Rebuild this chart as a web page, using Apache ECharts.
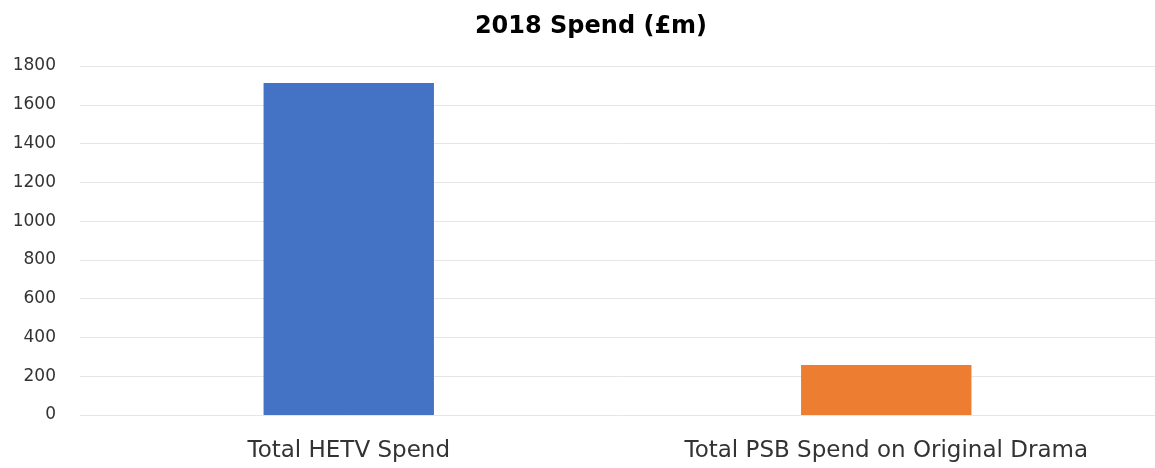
<!DOCTYPE html>
<html>
<head>
<meta charset="utf-8">
<script src="https://cdn.jsdelivr.net/npm/echarts@6/dist/echarts.min.js"></script>
<style>
  html, body { margin: 0; padding: 0; background: #ffffff; }
  #chart { width: 1155px; height: 468px; }
</style>
</head>
<body>
<div id="chart"></div>
<script>
// 2018 spend in £m
const categories = ['Total HETV Spend', 'Total PSB Spend on Original Drama'];
const spendValues = [1712, 258];
const barColors = ['#4472C4', '#ED7D31'];
const titleText = '2018 Spend (£m)';

const chart = echarts.init(document.getElementById('chart'), null, { renderer: 'canvas' });

chart.setOption({
  animation: false,
  backgroundColor: '#ffffff',
  title: {
    text: titleText,
    left: 586,
    top: 10,
    textAlign: 'center',
    textStyle: {
      fontFamily: 'DejaVu Sans',
      fontWeight: 'bold',
      fontSize: 24,
      color: '#000000'
    }
  },
  grid: {
    left: 80,
    top: 66,
    right: 0,
    height: 349,
    containLabel: false
  },
  xAxis: {
    type: 'category',
    data: categories,
    axisLine: { show: false },
    axisTick: { show: false },
    axisLabel: {
      margin: 25,
      fontFamily: 'DejaVu Sans',
      fontSize: 23,
      color: '#333333'
    }
  },
  yAxis: {
    type: 'value',
    min: 0,
    max: 1800,
    interval: 200,
    axisLine: { show: false },
    axisTick: { show: false },
    axisLabel: {
      margin: 24,
      fontFamily: 'DejaVu Sans',
      fontSize: 17,
      color: '#333333',
      formatter: (v) => String(v)
    },
    splitLine: { lineStyle: { color: '#e6e6e6', width: 1 } }
  },
  series: [{
    type: 'bar',
    data: spendValues.map((v, i) => ({ value: v, itemStyle: { color: barColors[i] } })),
    barWidth: '31.7%'
  }]
});
</script>
</body>
</html>
